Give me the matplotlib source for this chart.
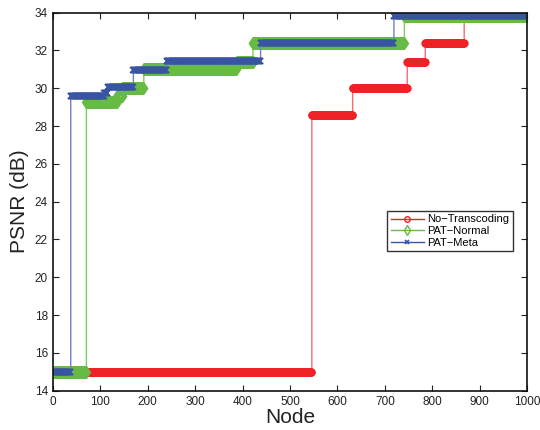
import numpy as np
import matplotlib
matplotlib.use("Agg")
import matplotlib.pyplot as plt

plt.rcParams['font.family'] = ['Liberation Sans', 'DejaVu Sans']

# Data: step breakpoints (first node of each level) and PSNR levels
node_count = 1000
red_starts = [1, 546, 632, 747, 785, 867]
red_levels = [15.0, 28.6, 30.0, 31.4, 32.4, 33.85]
green_starts = [1, 71, 136, 147, 192, 388, 422, 741]
green_levels = [15.0, 29.3, 29.6, 30.0, 31.0, 31.4, 32.4, 33.85]
blue_starts = [1, 38, 109, 116, 170, 240, 438, 719]
blue_levels = [15.0, 29.6, 29.75, 30.05, 30.95, 31.45, 32.4, 33.85]
labels = ['No\u2212Transcoding', 'PAT\u2212Normal', 'PAT\u2212Meta']

nodes = np.arange(1, node_count + 1)

def expand(starts, levels):
    idx = np.searchsorted(starts, nodes, side='right') - 1
    return np.asarray(levels)[idx]

red = expand(red_starts, red_levels)
green = expand(green_starts, green_levels)
blue = expand(blue_starts, blue_levels)

fig = plt.figure(figsize=(5.4, 4.3), dpi=100)
ax = fig.add_axes([0.0976, 0.0915, 0.8789, 0.879])

c_red = '#EE2226'
c_green = '#66BB44'
c_blue = '#3A54A4'
l_red = '#F26D70'
l_green = '#7DCB5E'
l_blue = '#6F82C0'

ax.plot(nodes, red, drawstyle='steps-post', color=l_red, lw=1.0,
        marker='o', ms=5, mfc='none', mec=c_red, mew=1.0, label=labels[0])
ax.plot(nodes, green, drawstyle='steps-post', color=l_green, lw=1.0,
        marker='d', ms=6.3, mfc='none', mec=c_green, mew=1.0, label=labels[1])
ax.plot(nodes, blue, drawstyle='steps-post', color=l_blue, lw=1.0,
        marker='x', ms=4, mec=c_blue, mew=1.2, label=labels[2])

ax.set_xlim(0, 1000)
ax.set_ylim(14, 34)
ax.set_xticks(np.arange(0, 1001, 100))
ax.set_yticks(np.arange(14, 35, 2))
ax.tick_params(direction='in', top=True, right=True, labelsize=8.5, length=4, width=0.8, colors='#222222')
for s in ax.spines.values():
    s.set_linewidth(1.2)
    s.set_color('#111111')

ax.set_xlabel('Node', fontsize=15, labelpad=0, color='#222222')
ax.set_ylabel('PSNR (dB)', fontsize=15, labelpad=4, color='#222222')

leg = ax.legend(loc='upper left', bbox_to_anchor=(0.705, 0.475), borderaxespad=0,
                fancybox=False, edgecolor='black', fontsize=8, handlelength=3.0,
                handletextpad=0.3, labelspacing=0.15, borderpad=0.3, markerscale=0.8)
leg.get_frame().set_linewidth(1.0)
for h, c in zip(leg.legend_handles, [c_red, c_green, c_blue]):
    h.set_markevery([1])
    h.set_color(c)

fig.savefig('out.png', dpi=100)
